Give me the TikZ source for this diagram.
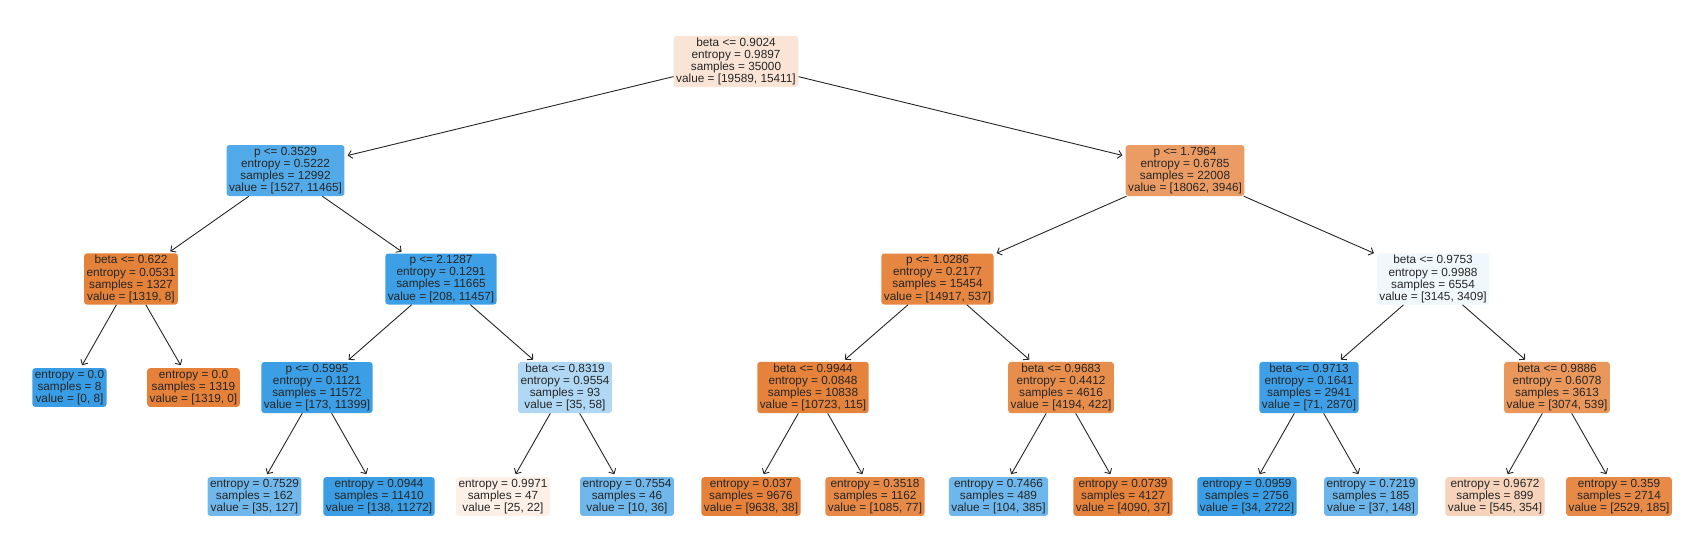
\documentclass[tikz,border=0pt]{standalone}
\usepackage{fontspec}
\setmainfont{Liberation Sans}
\usetikzlibrary{arrows.meta}

\definecolor{orng}{RGB}{229,129,57}
\definecolor{blu}{RGB}{57,157,229}
\definecolor{txt}{RGB}{38,38,38}

\tikzset{
	treenode/.style={rounded corners=3pt, inner xsep=2.5pt, inner ysep=2pt, align=center, text=txt,
		font=\fontsize{11.8}{12.1}\selectfont},
	orbox/.style={treenode, fill=orng!#1!white},
	blbox/.style={treenode, fill=blu!#1!white},
	branch/.style={draw=txt, line width=0.9pt, -{Straight Barb[length=4pt,width=8pt]}, shorten >=3pt}
}

\begin{document}
\begin{tikzpicture}[x=1pt, y=-1pt]
		
			\useasboundingbox (0,0) rectangle (1688,558);
			
			% root and first split
			\node[orbox=21.3] (root) at (736,61.5) {beta <= 0.9024\\entropy = 0.9897\\samples = 35000\\value = [19589, 15411]};
			\node[blbox=86.7] (pA) at (285.5,170.5) {p <= 0.3529\\entropy = 0.5222\\samples = 12992\\value = [1527, 11465]};
			\node[orbox=78.2] (pB) at (1185,170.5) {p <= 1.7964\\entropy = 0.6785\\samples = 22008\\value = [18062, 3946]};
			
			% second level
			\node[orbox=99.4] (bA) at (131,279) {beta <= 0.622\\entropy = 0.0531\\samples = 1327\\value = [1319, 8]};
			\node[blbox=98.2] (pC) at (441,279) {p <= 2.1287\\entropy = 0.1291\\samples = 11665\\value = [208, 11457]};
			\node[orbox=96.4] (pD) at (937.5,279) {p <= 1.0286\\entropy = 0.2177\\samples = 15454\\value = [14917, 537]};
			\node[blbox=7.7] (bB) at (1433,279) {beta <= 0.9753\\entropy = 0.9988\\samples = 6554\\value = [3145, 3409]};
			
			% third level
			\node[blbox=100] (lfA) at (69.5,387.5) {entropy = 0.0\\samples = 8\\value = [0, 8]};
			\node[orbox=100] (lfB) at (193.5,387.5) {entropy = 0.0\\samples = 1319\\value = [1319, 0]};
			\node[blbox=98.5] (pE) at (317,387.5) {p <= 0.5995\\entropy = 0.1121\\samples = 11572\\value = [173, 11399]};
			\node[blbox=39.7] (bC) at (565,387.5) {beta <= 0.8319\\entropy = 0.9554\\samples = 93\\value = [35, 58]};
			\node[orbox=98.9] (bD) at (813,387.5) {beta <= 0.9944\\entropy = 0.0848\\samples = 10838\\value = [10723, 115]};
			\node[orbox=89.9] (bE) at (1061,387.5) {beta <= 0.9683\\entropy = 0.4412\\samples = 4616\\value = [4194, 422]};
			\node[blbox=97.5] (bF) at (1309,387.5) {beta <= 0.9713\\entropy = 0.1641\\samples = 2941\\value = [71, 2870]};
			\node[orbox=82.5] (bG) at (1557,387.5) {beta <= 0.9886\\entropy = 0.6078\\samples = 3613\\value = [3074, 539]};
			
			% leaves
			\node[blbox=72.4] (lfC) at (254.5,496.5) {entropy = 0.7529\\samples = 162\\value = [35, 127]};
			\node[blbox=98.8] (lfD) at (379,496.5) {entropy = 0.0944\\samples = 11410\\value = [138, 11272]};
			\node[orbox=12] (lfE) at (503,496.5) {entropy = 0.9971\\samples = 47\\value = [25, 22]};
			\node[blbox=72.2] (lfF) at (627,496.5) {entropy = 0.7554\\samples = 46\\value = [10, 36]};
			\node[orbox=99.6] (lfG) at (751,496.5) {entropy = 0.037\\samples = 9676\\value = [9638, 38]};
			\node[orbox=92.9] (lfH) at (875,496.5) {entropy = 0.3518\\samples = 1162\\value = [1085, 77]};
			\node[blbox=73] (lfI) at (998.5,496.5) {entropy = 0.7466\\samples = 489\\value = [104, 385]};
			\node[orbox=99.1] (lfJ) at (1123,496.5) {entropy = 0.0739\\samples = 4127\\value = [4090, 37]};
			\node[blbox=98.8] (lfK) at (1247,496.5) {entropy = 0.0959\\samples = 2756\\value = [34, 2722]};
			\node[blbox=75] (lfL) at (1371,496.5) {entropy = 0.7219\\samples = 185\\value = [37, 148]};
			\node[orbox=35] (lfM) at (1495,496.5) {entropy = 0.9672\\samples = 899\\value = [545, 354]};
			\node[orbox=92.7] (lfN) at (1619,496.5) {entropy = 0.359\\samples = 2714\\value = [2529, 185]};
			
			\draw[branch] (root) -- (pA);
			\draw[branch] (root) -- (pB);
			\draw[branch] (pA) -- (bA);
			\draw[branch] (pA) -- (pC);
			\draw[branch] (pB) -- (pD);
			\draw[branch] (pB) -- (bB);
			\draw[branch] (bA) -- (lfA);
			\draw[branch] (bA) -- (lfB);
			\draw[branch] (pC) -- (pE);
			\draw[branch] (pC) -- (bC);
			\draw[branch] (pD) -- (bD);
			\draw[branch] (pD) -- (bE);
			\draw[branch] (bB) -- (bF);
			\draw[branch] (bB) -- (bG);
			\draw[branch] (pE) -- (lfC);
			\draw[branch] (pE) -- (lfD);
			\draw[branch] (bC) -- (lfE);
			\draw[branch] (bC) -- (lfF);
			\draw[branch] (bD) -- (lfG);
			\draw[branch] (bD) -- (lfH);
			\draw[branch] (bE) -- (lfI);
			\draw[branch] (bE) -- (lfJ);
			\draw[branch] (bF) -- (lfK);
			\draw[branch] (bF) -- (lfL);
			\draw[branch] (bG) -- (lfM);
			\draw[branch] (bG) -- (lfN);
			
\end{tikzpicture}
\end{document}
